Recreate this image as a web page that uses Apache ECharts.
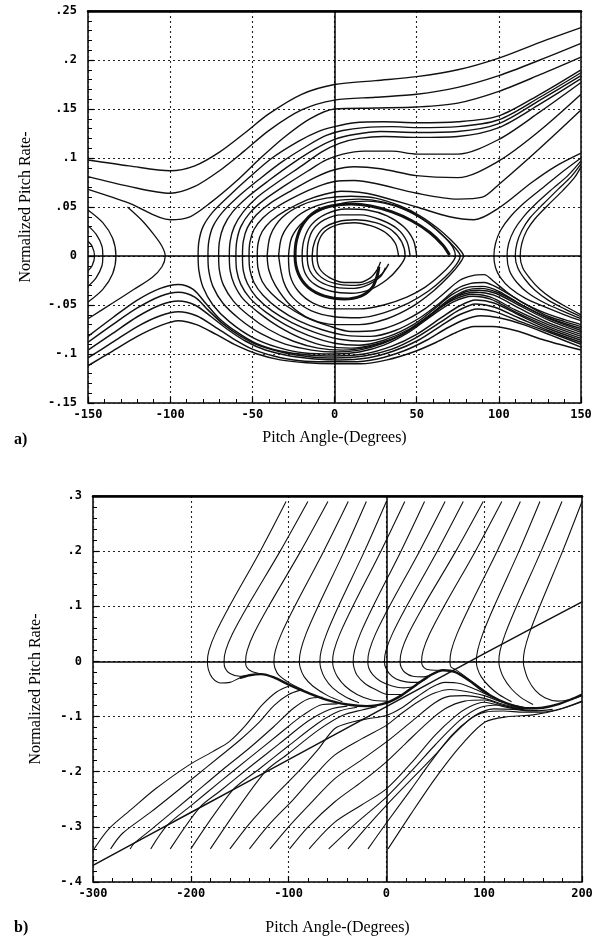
<!DOCTYPE html>
<html>
<head>
<meta charset="utf-8">
<script src="https://cdn.jsdelivr.net/npm/echarts@6/dist/echarts.min.js"></script>
<style>
html, body { margin: 0; padding: 0; background: #fff; }
#chart { width: 604px; height: 941px; }
</style>
</head>
<body>
<div id="chart"></div>
<script>
// points are [pitch angle (deg), normalized pitch rate]

// ---- panel a ----
// curves passing over the left saddle, full width
var aOverCurves = [
    [[-150,.098],[-125,.092],[-100,.087],[-85,.092],[-70,.106],[-55,.125],[-40,.145],[-20,.165],[0,.175],[25,.179],[50,.183],[75,.19],[100,.202],[125,.218],[150,.233]],
    [[-150,.081],[-125,.071],[-100,.064],[-85,.071],[-70,.087],[-55,.107],[-40,.128],[-20,.149],[0,.159],[25,.162],[50,.165],[75,.172],[100,.184],[125,.2],[150,.217]],
    [[-150,.068],[-125,.054],[-100,.037],[-88,.04],[-75,.055],[-60,.076],[-45,.1],[-30,.122],[-15,.14],[0,.15],[25,.151],[50,.152],[75,.156],[100,.168],[125,.185],[150,.203]]
];

// curves coming in along the bottom, turning up left of the eye and leaving top right
var aEscapeCurves = [
    [[150,-.084],[130,-.072],[110,-.057],[95,-.044],[84,-.041],[72,-.047],[60,-.06],[45,-.078],[30,-.091],[15,-.098],[0,-.1],[-18,-.099],[-35,-.093],[-50,-.083],[-64,-.067],[-74,-.05],[-80,-.032],[-82.5,-.015],[-83,0],[-82.5,.015],[-80,.03],[-74,.045],[-65,.06],[-52,.08],[-38,.1],[-22,.117],[-10,.127],[0,.132],[12,.136],[30,.137],[50,.136],[75,.137],[100,.143],[125,.165],[150,.19]],
    [[150,-.082],[130,-.07],[110,-.055],[95,-.042],[84,-.039],[72,-.045],[60,-.058],[45,-.076],[30,-.089],[15,-.096],[0,-.098],[-14,-.096],[-30,-.09],[-45,-.079],[-58,-.064],[-68,-.048],[-74,-.031],[-76.5,-.015],[-77,0],[-76.5,.015],[-74,.03],[-68,.045],[-59,.06],[-46,.078],[-32,.096],[-16,.113],[-5,.123],[5,.128],[18,.131],[35,.132],[50,.131],[75,.132],[100,.139],[125,.162],[150,.187]],
    [[150,-.08],[130,-.068],[112,-.053],[97,-.04],[86,-.037],[75,-.041],[63,-.054],[50,-.071],[35,-.085],[20,-.093],[5,-.096],[-10,-.094],[-25,-.087],[-40,-.075],[-52,-.061],[-61.5,-.046],[-67.5,-.03],[-70,-.015],[-70.5,0],[-70,.015],[-67.5,.03],[-62,.045],[-53,.06],[-40,.077],[-26,.094],[-12,.109],[0,.119],[12,.124],[28,.127],[50,.126],[75,.127],[100,.135],[125,.159],[150,.184]],
    [[150,-.078],[131,-.066],[113,-.051],[98,-.038],[88,-.035],[79,-.037],[68,-.048],[55,-.065],[40,-.081],[25,-.09],[10,-.094],[-5,-.092],[-20,-.084],[-34,-.072],[-46,-.058],[-55.5,-.044],[-61,-.029],[-63.5,-.015],[-64,0],[-63.5,.015],[-61,.03],[-55.5,.045],[-47,.06],[-34,.076],[-20,.092],[-8,.106],[3,.115],[15,.12],[30,.122],[50,.121],[75,.122],[100,.131],[125,.155],[150,.181]],
    [[150,-.076],[132,-.065],[114,-.05],[99,-.037],[89,-.033],[80,-.035],[70,-.044],[58,-.06],[45,-.075],[30,-.086],[15,-.091],[0,-.089],[-16,-.081],[-30,-.07],[-42,-.057],[-51.5,-.043],[-57,-.029],[-59.5,-.015],[-60,0],[-59.5,.015],[-57,.03],[-51.5,.044],[-43,.057],[-30,.072],[-16,.087],[-5,.098],[5,.104],[18,.107],[35,.107],[50,.104],[75,.104],[100,.119],[125,.147],[150,.177]],
    [[150,-.074],[130,-.063],[113,-.049],[100,-.036],[90,-.031],[81,-.032],[71,-.04],[60,-.055],[48,-.07],[33,-.082],[18,-.087],[3,-.085],[-12,-.078],[-26,-.068],[-38,-.056],[-47.5,-.042],[-53,-.028],[-55.5,-.015],[-56,0],[-55.5,.015],[-53,.029],[-47.5,.042],[-39,.054],[-26,.067],[-12,.08],[0,.088],[12,.091],[28,.089],[50,.082],[75,.08],[100,.097],[125,.128],[150,.165]],
    [[150,-.072],[140,-.067],[128,-.06],[112,-.045],[100,-.033],[91,-.027],[83,-.028],[74,-.034],[64,-.048],[52,-.063],[37,-.076],[22,-.082],[7,-.081],[-8,-.075],[-22,-.066],[-34,-.054],[-43.5,-.04],[-49,-.027],[-51.5,-.014],[-52,0],[-51.5,.014],[-49,.027],[-43.5,.039],[-35,.05],[-22,.062],[-10,.071],[0,.076],[12,.077],[25,.074],[50,.064],[75,.058],[90,.06],[100,.073],[125,.11],[150,.149]],
    [[150,-.07],[140,-.065],[128,-.058],[115,-.048],[105,-.037],[97,-.026],[91,-.019],[84,-.02],[76,-.025],[66,-.039],[55,-.054],[40,-.068],[25,-.076],[10,-.077],[-4,-.071],[-18,-.062],[-30,-.05],[-38.5,-.038],[-44,-.026],[-46.5,-.013],[-47,0],[-46.5,.013],[-44,.025],[-38.5,.036],[-30,.046],[-17,.057],[-6,.063],[4,.066],[15,.065],[25,.062],[50,.05],[70,.04],[85,.037],[100,.049],[120,.075],[135,.092],[150,.105]]
];

// curves passing under both saddles, full width
var aUnderCurves = [
    [[-150,-.082],[-135,-.063],[-120,-.045],[-106,-.033],[-95,-.029],[-86,-.034],[-78,-.049],[-70,-.064],[-60,-.077],[-48,-.089],[-33,-.097],[-16,-.101],[0,-.102],[18,-.1],[35,-.092],[50,-.08],[65,-.063],[76,-.051],[86,-.045],[97,-.048],[112,-.06],[130,-.074],[150,-.086]],
    [[-150,-.088],[-135,-.07],[-120,-.053],[-106,-.041],[-95,-.037],[-85,-.042],[-77,-.055],[-68,-.069],[-57,-.082],[-45,-.092],[-30,-.099],[-14,-.103],[0,-.104],[18,-.102],[35,-.095],[50,-.083],[65,-.067],[76,-.055],[86,-.049],[97,-.052],[112,-.063],[130,-.076],[150,-.088]],
    [[-150,-.096],[-135,-.079],[-120,-.062],[-106,-.05],[-95,-.046],[-85,-.05],[-75,-.062],[-65,-.075],[-54,-.087],[-42,-.096],[-27,-.102],[-12,-.105],[3,-.106],[20,-.104],[36,-.097],[51,-.086],[65,-.071],[76,-.06],[87,-.054],[98,-.057],[113,-.067],[131,-.078],[150,-.09]],
    [[-150,-.104],[-135,-.088],[-120,-.072],[-106,-.061],[-95,-.057],[-84,-.061],[-73,-.072],[-62,-.084],[-50,-.095],[-37,-.102],[-21,-.107],[-5,-.108],[10,-.108],[26,-.105],[42,-.097],[56,-.086],[68,-.074],[79,-.065],[89,-.061],[100,-.063],[115,-.07],[132,-.081],[150,-.093]],
    [[-150,-.112],[-135,-.097],[-120,-.082],[-106,-.071],[-95,-.066],[-84,-.07],[-72,-.08],[-60,-.091],[-47,-.1],[-33,-.106],[-17,-.109],[0,-.11],[16,-.11],[32,-.106],[48,-.098],[62,-.088],[74,-.078],[85,-.072],[96,-.072],[110,-.076],[128,-.086],[150,-.096]]
];

// arcs at the left edge and the left saddle
var aLeftArcs = [
    [[-150,.015],[-147.5,.01],[-146,0],[-147.5,-.01],[-150,-.015]],
    [[-150,.031],[-145,.022],[-141.5,.01],[-141,0],[-141.5,-.01],[-145,-.022],[-150,-.031]],
    [[-150,.047],[-141,.034],[-135,.018],[-133,0],[-135,-.018],[-141,-.034],[-150,-.047]],
    [[-126,.05],[-117,.036],[-110,.022],[-105,.01],[-103,0],[-105,-.011],[-111,-.022],[-122,-.034],[-135,-.048],[-150,-.064]]
];

// arcs right of the right saddle
var aRightArcs = [
    [[150,-.066],[140,-.06],[128,-.052],[116,-.043],[107,-.033],[101,-.022],[98,-.012],[97,0],[98,.013],[101,.026],[107,.04],[116,.055],[127,.07],[138,.085],[150,.1]],
    [[150,-.064],[140,-.057],[128,-.048],[118,-.038],[111,-.027],[106.5,-.015],[105,0],[106,.013],[109.5,.027],[115,.04],[123,.054],[133,.069],[142,.082],[150,.097]],
    [[150,-.062],[140,-.054],[130,-.045],[122,-.035],[116,-.024],[111.5,-.012],[110,0],[111,.013],[114,.026],[119,.039],[127,.053],[136,.068],[144,.081],[150,.094]],
    [[150,-.06],[140,-.051],[132,-.043],[125,-.034],[119,-.023],[114.5,-.012],[113,0],[114,.013],[117,.026],[122,.038],[130,.052],[139,.067],[146,.08],[150,.091]]
];

// loops inside the eye and the inner spirals
var aEyeLoops = [
    [[-41,0],[-39,.021],[-32,.039],[-20,.052],[-5,.059],[10,.061],[25,.059],[40,.051],[52,.041],[63,.028],[71,.016],[76,.007],[78.5,0],[76,-.008],[70,-.02],[60,-.036],[47,-.052],[32,-.064],[15,-.07],[0,-.07],[-15,-.064],[-27,-.05],[-36,-.03],[-40,-.014],[-41,0]],
    [[-34,0],[-32,.02],[-25,.037],[-14,.049],[0,.056],[15,.058],[30,.055],[44,.047],[56,.035],[66,.021],[73,.009],[76.5,0],[74,-.009],[67,-.022],[57,-.036],[45,-.048],[30,-.058],[15,-.063],[0,-.062],[-14,-.056],[-25,-.043],[-31,-.026],[-34,0]],
    [[-28,0],[-26,.019],[-19,.035],[-8,.047],[5,.054],[20,.056],[35,.052],[48,.043],[59,.031],[67,.019],[72,.009],[73.6,0],[71,-.008],[64,-.02],[55,-.032],[44,-.042],[30,-.05],[15,-.054],[0,-.054],[-13,-.048],[-22,-.036],[-27,-.02],[-28,0]],
    [[50,0],[48,.016],[42,.03],[32,.041],[20,.047],[7,.048],[-5,.043],[-14,.032],[-18.5,.017],[-19.7,0],[-18,-.017],[-12,-.029],[-2,-.036],[10,-.038],[22,-.034],[32,-.024],[39,-.012],[43,0],[41,.014],[35,.026],[25,.034],[13,.037],[2,.035],[-7,.028],[-12,.015],[-13.6,0],[-12,-.014],[-6,-.024],[3,-.029],[13,-.03],[22,-.026],[29,-.018],[33,-.008]],
    [[46,0],[44,.015],[38,.028],[28,.037],[16,.042],[4,.042],[-6,.037],[-13,.027],[-16,.014],[-16.6,0],[-15,-.015],[-9,-.026],[1,-.032],[12,-.033],[21,-.029],[28,-.021],[31,-.012]],
    [[39,0],[37,.013],[31,.024],[22,.031],[12,.034],[2,.032],[-6,.025],[-10,.013],[-10.6,0],[-9,-.013],[-3,-.022],[6,-.027],[15,-.027],[22,-.022],[26,-.014],[28,-.006]]
];

// the dark outer turn of the spiral
var aEyeCore = [
    [[70,.001],[66,.011],[58,.024],[47,.036],[35,.045],[22,.051],[10,.053],[-2,.051],[-12,.045],[-19,.033],[-23,.017],[-24,0],[-22,-.018],[-16,-.032],[-6,-.041],[6,-.044],[16,-.041],[23,-.032],[26,-.02],[27,-.011]]
];

// ---- panel b ----
// curves starting near the top, bending back round zero rate
var bUpperCurves = [
    [[-102.6,.29],[-129,.2],[-160.5,.1],[-175,.05],[-181.4,.02],[-183,0],[-182,-.015],[-178,-.03],[-170,-.039],[-160,-.038],[-150,-.03],[-140,-.025]],
    [[-80.3,.29],[-108.6,.2],[-142,.1],[-157.4,.05],[-164.3,.02],[-166,0],[-165,-.012],[-160,-.022],[-150,-.027],[-140,-.025]],
    [[-59.8,.29],[-87.6,.2],[-120.4,.1],[-135.6,.05],[-142.3,.02],[-144,0],[-143,-.01],[-138,-.018],[-128,-.023]],
    [[-39,.29],[-64.1,.2],[-93.7,.1],[-107.4,.05],[-113.5,.02],[-115,0],[-114,-.012],[-110,-.025],[-100,-.038],[-85,-.052]],
    [[-20.5,.29],[-43.1,.2],[-69.8,.1],[-82.2,.05],[-87.6,.02],[-89,0],[-88,-.012],[-84,-.028],[-75,-.045],[-60,-.062],[-45,-.073]],
    [[0,.29],[-22.4,.2],[-49,.1],[-61.2,.05],[-66.6,.02],[-68,0],[-67,-.013],[-63,-.03],[-55,-.048],[-42,-.064],[-28,-.075]],
    [[18.8,.29],[-5.6,.2],[-34.3,.1],[-47.6,.05],[-53.5,.02],[-55,0],[-54,-.012],[-50,-.028],[-42,-.045],[-30,-.06],[-15,-.07],[0,-.072]],
    [[39,.29],[14.9,.2],[-13.6,.1],[-26.7,.05],[-32.5,.02],[-34,0],[-33,-.012],[-30,-.025],[-22,-.04],[-10,-.052],[2,-.06],[15,-.06]],
    [[60,.29],[33.9,.2],[3.1,.1],[-11.1,.05],[-17.4,.02],[-19,0],[-18,-.012],[-14,-.024],[-6,-.036],[5,-.044],[18,-.048],[28,-.046]],
    [[78.6,.29],[52,.2],[20.6,.1],[6.1,.05],[-0.4,.02],[-2,0],[-1,-.01],[3,-.022],[10,-.032],[20,-.037],[32,-.038],[42,-.03]],
    [[99,.29],[71,.2],[37.8,.1],[22.5,.05],[15.7,.02],[14,0],[15,-.01],[19,-.02],[27,-.027],[38,-.028],[50,-.02]],
    [[118,.29],[91,.2],[59,.1],[44.2,.05],[37.6,.02],[36,0],[37,-.008],[41,-.014],[50,-.016],[60,-.016]],
    [[137,.29],[113.2,.2],[85.2,.1],[72.2,.05],[66.4,.02],[65,0],[66,-.01],[70,-.014],[78,-.024],[90,-.04],[105,-.059]],
    [[157,.29],[135.6,.2],[110.2,.1],[98.5,.05],[93.3,.02],[92,0],[93,-.012],[97,-.028],[105,-.045],[115,-.06],[128,-.073]],
    [[179.5,.29],[158.2,.2],[133.1,.1],[121.5,.05],[116.3,.02],[115,0],[116,-.012],[120,-.03],[128,-.05],[138,-.066],[150,-.078]],
    [[200,.29],[180.2,.2],[156.8,.1],[146,.05],[141.2,.02],[140,0],[141,-.012],[145,-.033],[152,-.052],[162,-.066],[175,-.072],[190,-.068],[200,-.062]]
];

// curves starting near the bottom and climbing into the band
var bLowerCurves = [
    [[-300,-.343],[-284,-.304],[-260,-.267],[-236,-.231],[-202,-.188],[-178,-.164],[-161,-.146],[-144,-.116],[-127,-.079],[-112,-.055],[-100,-.045]],
    [[-282,-.34],[-270,-.312],[-240,-.272],[-200,-.215],[-170,-.172],[-150,-.143],[-130,-.11],[-115,-.08],[-100,-.06],[-88,-.052]],
    [[-262,-.34],[-258,-.33],[-240,-.304],[-200,-.245],[-170,-.2],[-140,-.157],[-115,-.118],[-95,-.085],[-80,-.068],[-65,-.065]],
    [[-241,-.34],[-224,-.297],[-200,-.262],[-170,-.218],[-140,-.175],[-110,-.132],[-85,-.097],[-65,-.078],[-50,-.077]],
    [[-221,-.34],[-191,-.265],[-170,-.235],[-140,-.192],[-110,-.15],[-80,-.108],[-58,-.087],[-40,-.081]],
    [[-200,-.34],[-157,-.233],[-130,-.195],[-100,-.153],[-70,-.112],[-48,-.09],[-30,-.083]],
    [[-180,-.34],[-125,-.202],[-100,-.167],[-70,-.125],[-45,-.098],[-25,-.088],[-10,-.082]],
    [[-160,-.34],[-140,-.294],[-115,-.245],[-90,-.2],[-70,-.16],[-53,-.122],[-35,-.11],[-19,-.104],[0,-.098],[15,-.085],[30,-.066],[45,-.048],[60,-.038],[75,-.04],[90,-.05],[105,-.062]],
    [[-140,-.34],[-120,-.296],[-95,-.25],[-75,-.21],[-53,-.17],[-25,-.14],[0,-.116],[15,-.095],[32.5,-.073],[50,-.057],[65,-.051],[80,-.054],[100,-.062],[120,-.075],[140,-.083]],
    [[-119,-.34],[-100,-.3],[-80,-.262],[-53,-.213],[-25,-.178],[0,-.146],[25,-.11],[49.6,-.075],[65,-.063],[80,-.062],[100,-.067],[120,-.078],[140,-.086]],
    [[-99,-.34],[-80,-.3],[-53,-.255],[-25,-.218],[0,-.182],[20,-.148],[42.7,-.11],[60,-.086],[80,-.072],[100,-.07],[120,-.08],[140,-.087]],
    [[-79,-.34],[-53,-.292],[-25,-.26],[0,-.231],[25,-.185],[49.6,-.134],[70,-.1],[84,-.083],[100,-.074],[120,-.082],[140,-.088]],
    [[-59,-.34],[-30,-.292],[0,-.246],[25,-.2],[49.6,-.152],[75,-.107],[95,-.084],[115,-.079],[135,-.087],[155,-.089]],
    [[-39.3,-.34],[-20,-.3],[0,-.261],[25,-.215],[49.6,-.17],[70,-.13],[90.6,-.098],[110,-.086],[130,-.087],[150,-.09],[170,-.087]],
    [[-18.8,-.34],[0,-.293],[25.6,-.231],[45,-.183],[66.7,-.134],[85,-.105],[100.9,-.092],[120,-.09],[140,-.092],[160,-.092],[180,-.085],[200,-.072]],
    [[1.7,-.34],[25,-.277],[49.6,-.213],[75,-.155],[100.9,-.11],[125,-.1],[150,-.097],[175,-.088],[200,-.073]]
];

// wavy band that everything collects on
var bBand = [
    [[-150,-.03],[-140,-.025],[-128,-.023],[-115,-.029],[-100,-.042],[-80,-.057],[-60,-.07],[-40,-.078],[-20,-.081],[0,-.075],[15,-.062],[30,-.043],[45,-.025],[58,-.016],[70,-.019],[85,-.035],[100,-.055],[115,-.07],[130,-.08],[145,-.085],[160,-.084],[175,-.078],[190,-.068],[200,-.06]]
];

// long straight trajectory across panel b
var bCrossLine = [
    [[-300,-.37],[-200,-.274],[-100,-.178],[0,-.082],[100,.014],[200,.108]]
];

var ink = '#111';
var tickFont = { fontFamily: 'DejaVu Sans Mono', fontWeight: 'bold', fontSize: 12, color: '#000' };
var titleFont = { fontFamily: 'Liberation Serif', fontSize: 16, color: '#000' };

function rateLabel(v) {
    if (Math.abs(v) < 1e-9) return '0';
    return String(+v.toFixed(2)).replace('0.', '.');
}

function bottomAxis(gi, min, max, step, gap) {
    return {
        gridIndex: gi, type: 'value', min: min, max: max, interval: step, position: 'bottom',
        axisLine: { show: false, onZero: false },
        axisTick: { show: true, inside: true, length: 6, lineStyle: { color: '#000', width: 1.2 } },
        minorTick: { show: true, splitNumber: 5, length: 4, lineStyle: { color: '#000', width: 1 } },
        splitLine: { show: true, lineStyle: { color: '#222', type: [2, 3], width: 1.1 } },
        axisLabel: Object.assign({ margin: 6 }, tickFont),
        name: 'Pitch Angle-(Degrees)', nameLocation: 'middle', nameGap: gap, nameTextStyle: titleFont
    };
}

function topAxis(gi, min, max) {
    return {
        gridIndex: gi, type: 'value', min: min, max: max, position: 'top',
        axisLine: { show: true, onZero: false, lineStyle: { color: '#000', width: 2.5 } },
        axisTick: { show: false }, axisLabel: { show: false }, splitLine: { show: false }
    };
}

function leftAxis(gi, min, max, step, gap) {
    return {
        gridIndex: gi, type: 'value', min: min, max: max, interval: step,
        axisLine: { show: false, onZero: false },
        axisTick: { show: true, inside: true, length: 6, lineStyle: { color: '#000', width: 1.2 } },
        minorTick: { show: true, splitNumber: 5, length: 4, lineStyle: { color: '#000', width: 1 } },
        splitLine: { show: true, lineStyle: { color: '#222', type: [2, 3], width: 1.1 } },
        axisLabel: Object.assign({ margin: 11, formatter: rateLabel }, tickFont),
        name: 'Normalized Pitch Rate-', nameLocation: 'middle', nameGap: gap, nameRotate: 90, nameTextStyle: titleFont
    };
}

function curveSeries(curves, xi, yi, width) {
    return curves.map(function (c) {
        return {
            type: 'line', xAxisIndex: xi, yAxisIndex: yi, data: c,
            showSymbol: false, smooth: 0.3, silent: true, animation: false,
            lineStyle: { color: ink, width: width }
        };
    });
}

function zeroLines(xi, yi) {
    return {
        type: 'line', xAxisIndex: xi, yAxisIndex: yi, data: [], silent: true, animation: false,
        markLine: {
            silent: true, animation: false, symbol: ['none', 'none'], label: { show: false },
            lineStyle: { color: '#000', type: 'solid', width: 1.5 },
            data: [{ xAxis: 0 }, { yAxis: 0 }]
        }
    };
}

var series = [].concat(
    [zeroLines(0, 0)],
    curveSeries(aOverCurves, 0, 0, 1.4),
    curveSeries(aEscapeCurves, 0, 0, 1.4),
    curveSeries(aUnderCurves, 0, 0, 1.5),
    curveSeries(aLeftArcs, 0, 0, 1.3),
    curveSeries(aRightArcs, 0, 0, 1.3),
    curveSeries(aEyeLoops, 0, 0, 1.4),
    curveSeries(aEyeCore, 0, 0, 3),
    [zeroLines(2, 1)],
    curveSeries(bUpperCurves, 2, 1, 1.1),
    curveSeries(bLowerCurves, 2, 1, 1.1),
    curveSeries(bBand, 2, 1, 2.4),
    curveSeries(bCrossLine, 2, 1, 1.5)
);

var chart = echarts.init(document.getElementById('chart'));

var option = {
    backgroundColor: '#fff',
    animation: false,
    grid: [
        { left: 88, top: 11, width: 493, height: 392, show: true, borderColor: '#000', borderWidth: 1.5, backgroundColor: 'transparent' },
        { left: 93, top: 496, width: 489, height: 386, show: true, borderColor: '#000', borderWidth: 1.5, backgroundColor: 'transparent' }
    ],
    xAxis: [
        bottomAxis(0, -150, 150, 50, 27),
        topAxis(0, -150, 150),
        bottomAxis(1, -300, 200, 100, 38),
        topAxis(1, -300, 200)
    ],
    yAxis: [
        leftAxis(0, -0.15, 0.25, 0.05, 54),
        leftAxis(1, -0.4, 0.3, 0.1, 49)
    ],
    graphic: [
        { type: 'text', left: 14, top: 432, style: { text: 'a)', font: 'bold 16px "Liberation Serif"', fill: '#000' } },
        { type: 'text', left: 14, top: 920, style: { text: 'b)', font: 'bold 16px "Liberation Serif"', fill: '#000' } }
    ],
    series: series
};

chart.setOption(option);

window.onresize = chart.resize;
</script>
</body>
</html>
